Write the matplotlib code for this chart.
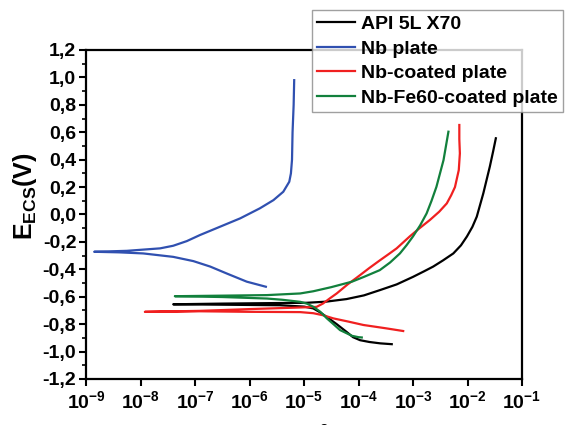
import matplotlib
matplotlib.use("Agg")
import matplotlib.pyplot as plt
import numpy as np
from matplotlib.ticker import MultipleLocator, FixedLocator, FixedFormatter, NullLocator

plt.rcParams['font.family'] = ['Liberation Sans', 'DejaVu Sans']
plt.rcParams['font.weight'] = 'bold'
plt.rcParams['mathtext.fontset'] = 'custom'
plt.rcParams['mathtext.rm'] = 'Liberation Sans:bold'
plt.rcParams['mathtext.it'] = 'Liberation Sans:bold'
plt.rcParams['mathtext.bf'] = 'Liberation Sans:bold'

# log10(i) and E (V vs ECS), each curve from the cathodic end to the anodic end
api_logi = [-3.39, -3.6, -3.8, -3.97, -4.1, -4.22, -4.4, -4.58, -4.72, -4.83,
            -5.0, -5.44, -6.5, -7.40,
            -6.5, -5.5, -4.95, -4.6, -4.22, -3.9, -3.61, -3.3, -3.0, -2.8,
            -2.63, -2.45, -2.26, -2.12, -2.01, -1.91, -1.83, -1.71, -1.59, -1.53, -1.48]
api_E = [-0.946, -0.94, -0.93, -0.917, -0.895, -0.856, -0.80, -0.748, -0.71, -0.685,
         -0.672, -0.662, -0.658, -0.655,
         -0.650, -0.646, -0.644, -0.636, -0.617, -0.59, -0.552, -0.51, -0.455, -0.415,
         -0.38, -0.335, -0.284, -0.225, -0.16, -0.09, -0.016, 0.154, 0.35, 0.46, 0.556]

nb_logi = [-5.70, -6.05, -6.42, -6.72, -7.03, -7.40, -7.95, -8.4, -8.85,
           -8.25, -7.64, -7.40, -7.15, -6.91, -6.54, -6.17, -5.81, -5.56, -5.38,
           -5.27, -5.24, -5.22, -5.21, -5.19, -5.18]
nb_E = [-0.527, -0.49, -0.43, -0.38, -0.34, -0.309, -0.284, -0.276, -0.272,
        -0.265, -0.247, -0.228, -0.194, -0.150, -0.089, -0.028, 0.045, 0.105, 0.166,
        0.239, 0.30, 0.40, 0.60, 0.80, 0.98]

nbc_logi = [-3.18, -3.5, -3.91, -4.2, -4.46, -4.65, -4.83, -5.07, -6.0, -6.91, -7.92,
            -6.91, -6.0, -5.2, -4.77, -4.65, -4.52, -4.40, -4.2, -4.03, -3.8, -3.61,
            -3.45, -3.30, -3.06, -2.88, -2.69, -2.52, -2.38, -2.30, -2.23, -2.16,
            -2.14, -2.15, -2.15]
nbc_E = [-0.85, -0.83, -0.806, -0.78, -0.758, -0.735, -0.72, -0.712, -0.71, -0.706, -0.71,
         -0.703, -0.69, -0.68, -0.674, -0.649, -0.61, -0.576, -0.51, -0.46, -0.39, -0.335,
         -0.29, -0.247, -0.16, -0.10, -0.04, 0.02, 0.081, 0.14, 0.20, 0.324,
         0.446, 0.55, 0.653]

nbfe_logi = [-3.94, -4.0, -4.12, -4.25, -4.34, -4.46, -4.58, -4.7, -4.83, -4.95,
             -5.07, -5.4, -5.68, -6.5, -7.37,
             -6.5, -5.68, -5.07, -4.83, -4.5, -4.12, -3.9, -3.61, -3.42, -3.24,
             -3.12, -3.0, -2.87, -2.75, -2.66, -2.57, -2.44, -2.35]
nbfe_E = [-0.897, -0.895, -0.885, -0.86, -0.843, -0.80, -0.758, -0.71, -0.673, -0.65,
          -0.637, -0.622, -0.613, -0.602, -0.596,
          -0.592, -0.588, -0.576, -0.56, -0.53, -0.49, -0.455, -0.406, -0.35, -0.284,
          -0.225, -0.16, -0.08, 0.008, 0.10, 0.202, 0.397, 0.604]

labels = ['API 5L X70', 'Nb plate', 'Nb-coated plate', 'Nb-Fe60-coated plate']
colors = ['#000000', '#3050b0', '#f02020', '#12803c']

yticks = [-1.2, -1.0, -0.8, -0.6, -0.4, -0.2, 0.0, 0.2, 0.4, 0.6, 0.8, 1.0, 1.2]
ytick_labels = ['-1,2', '-1,0', '-0,8', '-0,6', '-0,4', '-0,2', '0,0',
                '0,2', '0,4', '0,6', '0,8', '1,0', '1,2']
xticks = [1e-9, 1e-8, 1e-7, 1e-6, 1e-5, 1e-4, 1e-3, 1e-2, 1e-1]
xtick_labels = ['$10^{-9}$', '$10^{-8}$', '$10^{-7}$', '$10^{-6}$', '$10^{-5}$',
                '$10^{-4}$', '$10^{-3}$', '$10^{-2}$', '$10^{-1}$']

fig = plt.figure(figsize=(5.65, 4.25), dpi=100)
ax = fig.add_axes([86/565, 1-379/425, (522-86)/565, (379-50)/425])

curves = [(api_logi, api_E), (nb_logi, nb_E), (nbc_logi, nbc_E), (nbfe_logi, nbfe_E)]
for (lx, e), c, lab in zip(curves, colors, labels):
    ax.plot(np.power(10.0, lx), e, color=c, lw=1.6, label=lab,
            solid_joinstyle='round')

ax.set_xscale('log')
ax.set_xlim(1e-9, 1e-1)
ax.set_ylim(-1.2, 1.2)
ax.xaxis.set_major_locator(FixedLocator(xticks))
ax.xaxis.set_major_formatter(FixedFormatter(xtick_labels))
ax.xaxis.set_minor_locator(NullLocator())
ax.yaxis.set_major_locator(FixedLocator(yticks))
ax.yaxis.set_major_formatter(FixedFormatter(ytick_labels))
ax.yaxis.set_minor_locator(MultipleLocator(0.1))
ax.tick_params(which='major', direction='out', length=5, width=1.5, labelsize=14)
ax.tick_params(which='minor', direction='out', length=3, width=1.2)
ax.tick_params(axis='x', pad=3)
ax.tick_params(axis='y', pad=2)
for s in ax.spines.values():
    s.set_linewidth(1.6)

ax.set_ylabel('E$_{ECS}$(V)', fontsize=18, fontweight='bold')
ax.yaxis.set_label_coords(-0.108, 0.555)
fig.text(0.515, -0.065, 'i (A/cm$^{2}$)', fontsize=16, ha='center', va='bottom')

leg = fig.legend(loc='upper right', bbox_to_anchor=(563/565, 1-10/425),
                 fontsize=14, frameon=True, fancybox=False, borderpad=0.28,
                 labelspacing=0.36, handlelength=1.95, handletextpad=0.3,
                 borderaxespad=0)
leg.get_frame().set_edgecolor('#888888')
leg.get_frame().set_linewidth(1.0)
for t in leg.get_texts():
    t.set_fontweight('bold')

fig.savefig('out.png', dpi=100)
